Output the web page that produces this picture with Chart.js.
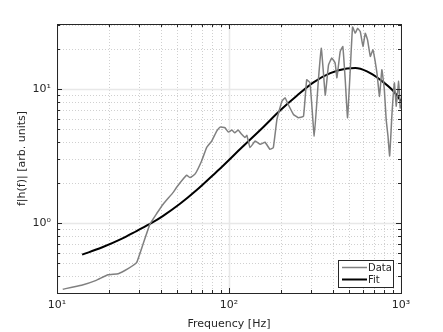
<!DOCTYPE html>
<html>
<head>
<meta charset="utf-8">
<script src="https://cdn.jsdelivr.net/npm/chart.js@4"></script>
<style>
  body { margin: 0; background: #fff; }
  #wrap { width: 443px; height: 332px; }
</style>
</head>
<body>
<div id="wrap"><canvas id="chart" width="443" height="332"></canvas></div>
<script>
// measured spectrum (gray)
const dataFreq = [10.8, 13.9, 16.9, 19.8, 22.7, 25.9, 29.0, 31.7, 34.7, 37.9, 41.4, 47.4, 49.5, 56.7, 59.3, 63.4,
  69.3, 74.1, 79.3, 84.8, 88.7, 94.8, 99.1, 104, 108, 113, 118.5, 124, 127, 132.5, 142, 152, 162, 173, 181,
  190, 203, 212, 221, 237, 253, 271, 283, 296, 313, 331, 344, 354, 363, 379, 396, 414, 424, 443, 459, 474,
  489, 507, 523, 542, 559, 580, 601, 620, 639, 663, 687, 708, 725, 750, 774, 800, 820, 840, 859, 887, 915,
  939, 969, 990, 1000];
const dataVal = [0.32, 0.343, 0.373, 0.411, 0.418, 0.456, 0.505, 0.70, 0.98, 1.17, 1.38, 1.69, 1.84, 2.27, 2.18, 2.31,
  2.9, 3.65, 4.08, 4.84, 5.19, 5.13, 4.76, 4.93, 4.7, 4.93, 4.58, 4.33, 4.5, 3.65, 4.08, 3.86, 4.0, 3.54, 3.65,
  5.92, 8.09, 8.58, 7.65, 6.45, 6.1, 6.24, 11.7, 11.1, 4.45, 11.7, 20.1, 13.2, 9.0, 15.1, 17, 15.6, 12.1, 19, 20.7, 11.7,
  6.1, 13.9, 29.0, 26, 28.3, 26.7, 20.7, 26, 23.2, 17.5, 19.6, 16, 13.1, 8.8, 13.9, 9.9, 5.9, 4.45, 3.16, 6.63, 11.1,
  7.43, 11.4, 7.2, 7.6];

// fitted curve (black)
const fitFreq = [14, 18.2, 23.7, 29, 35.5, 41.4, 51.9, 64.9, 80, 92.7, 118.6, 158.5, 198, 248, 310, 388,
  485, 542, 634, 757, 906, 1000];
const fitVal = [0.58, 0.655, 0.76, 0.87, 1.0, 1.13, 1.39, 1.76, 2.25, 2.68, 3.65, 5.2, 6.9, 8.9, 11.2, 13.1,
  14.2, 14.3, 13.5, 11.7, 9.6, 8.1];

const xMin = 10, xMax = 1000;
const yMin = 0.305, yMax = 30.5;
const seriesLabels = ['Data', 'Fit'];

const textColor = '#262626';
const fontFamily = '"DejaVu Sans", sans-serif';

function toPoints(xs, ys) {
  return xs.map((x, i) => ({ x: x, y: ys[i] }));
}

function logTicks(min, max) {
  const out = [];
  for (let e = Math.floor(Math.log10(min)); e <= Math.ceil(Math.log10(max)); e++) {
    for (let m = 1; m <= 9; m++) {
      const v = m * Math.pow(10, e);
      if (v >= min * 0.999 && v <= max * 1.001) out.push({ v: v, major: m === 1 });
    }
  }
  return out;
}

// grid lines behind the data
const gridPlugin = {
  id: 'matlabGrid',
  beforeDatasetsDraw(chart) {
    const { ctx, chartArea: a, scales } = chart;
    ctx.save();
    ctx.beginPath();
    ctx.rect(a.left, a.top, a.right - a.left, a.bottom - a.top);
    ctx.clip();
    const lines = [];
    logTicks(xMin, xMax).forEach(t => lines.push({ major: t.major, x: scales.x.getPixelForValue(t.v) }));
    logTicks(yMin, yMax).forEach(t => lines.push({ major: t.major, y: scales.y.getPixelForValue(t.v) }));
    lines.forEach(l => {
      ctx.beginPath();
      if (l.major) {
        ctx.setLineDash([]);
        ctx.strokeStyle = '#e8e8e8';
        ctx.lineWidth = 1.5;
      } else {
        ctx.setLineDash([1, 2]);
        ctx.strokeStyle = '#d0d0d0';
        ctx.lineWidth = 1;
      }
      if (l.x !== undefined) {
        const x = Math.round(l.x) + 0.5;
        ctx.moveTo(x, a.top);
        ctx.lineTo(x, a.bottom);
      } else {
        const y = Math.round(l.y) + 0.5;
        ctx.moveTo(a.left, y);
        ctx.lineTo(a.right, y);
      }
      ctx.stroke();
    });
    ctx.restore();
  },
  afterDatasetsDraw(chart) {
    const { ctx, chartArea: a, scales } = chart;
    ctx.save();
    ctx.setLineDash([]);
    ctx.strokeStyle = '#262626';
    ctx.lineWidth = 1;
    // inward ticks on all four sides
    ctx.beginPath();
    logTicks(xMin, xMax).forEach(t => {
      const x = Math.round(scales.x.getPixelForValue(t.v)) + 0.5;
      const len = t.major ? 5 : 3;
      ctx.moveTo(x, a.bottom); ctx.lineTo(x, a.bottom - len);
      ctx.moveTo(x, a.top); ctx.lineTo(x, a.top + len);
    });
    logTicks(yMin, yMax).forEach(t => {
      const y = Math.round(scales.y.getPixelForValue(t.v)) + 0.5;
      const len = t.major ? 5 : 3;
      ctx.moveTo(a.left, y); ctx.lineTo(a.left + len, y);
      ctx.moveTo(a.right, y); ctx.lineTo(a.right - len, y);
    });
    ctx.stroke();
    // axes box
    ctx.strokeRect(Math.round(a.left) + 0.5, Math.round(a.top) + 0.5,
      Math.round(a.right - a.left), Math.round(a.bottom - a.top));
    ctx.restore();
  }
};

// legend box in the lower right corner of the axes
const legendPlugin = {
  id: 'boxLegend',
  afterDraw(chart) {
    const { ctx, chartArea: a } = chart;
    const w = 55, h = 27;
    const x0 = a.right - 8 - w, y0 = a.bottom - 6 - h;
    ctx.save();
    ctx.fillStyle = '#fff';
    ctx.fillRect(x0, y0, w, h);
    ctx.strokeStyle = '#262626';
    ctx.lineWidth = 1;
    ctx.strokeRect(Math.round(x0) + 0.5, Math.round(y0) + 0.5, w, h);
    ctx.font = '10px ' + fontFamily;
    ctx.textBaseline = 'middle';
    ctx.fillStyle = textColor;
    chart.data.datasets.forEach((ds, i) => {
      const y = y0 + 7.5 + i * 12;
      ctx.beginPath();
      ctx.strokeStyle = ds.borderColor;
      ctx.lineWidth = ds.borderWidth;
      ctx.moveTo(x0 + 4, y);
      ctx.lineTo(x0 + 29, y);
      ctx.stroke();
      ctx.fillText(ds.label, x0 + 30, y + 0.5);
    });
    ctx.restore();
  }
};

const supers = { '-': '⁻', '0': '⁰', '1': '¹', '2': '²', '3': '³', '4': '⁴', '5': '⁵', '6': '⁶', '7': '⁷', '8': '⁸', '9': '⁹' };
function powerLabel(value) {
  const e = Math.log10(value);
  if (Math.abs(e - Math.round(e)) > 1e-6) return '';
  return '10' + String(Math.round(e)).split('').map(c => supers[c]).join('');
}

new Chart(document.getElementById('chart'), {
  type: 'scatter',
  data: {
    datasets: [
      {
        label: seriesLabels[0],
        data: toPoints(dataFreq, dataVal),
        showLine: true,
        borderColor: '#808080',
        borderWidth: 1.5,
        pointRadius: 0,
        tension: 0.1
      },
      {
        label: seriesLabels[1],
        data: toPoints(fitFreq, fitVal),
        showLine: true,
        borderColor: '#000000',
        borderWidth: 2,
        pointRadius: 0,
        cubicInterpolationMode: 'monotone'
      }
    ]
  },
  options: {
    responsive: false,
    animation: false,
    layout: { padding: { left: 0, right: 42, top: 24, bottom: 0 } },
    plugins: {
      legend: { display: false },
      tooltip: { enabled: false }
    },
    scales: {
      x: {
        type: 'logarithmic',
        min: xMin,
        max: xMax,
        grid: { display: false, drawTicks: false },
        border: { display: false },
        ticks: {
          autoSkip: false,
          maxRotation: 0,
          padding: 6,
          color: textColor,
          font: { family: fontFamily, size: 11 },
          callback: v => powerLabel(v)
        },
        title: {
          display: true,
          text: 'Frequency [Hz]',
          color: textColor,
          font: { family: fontFamily, size: 11 },
          padding: { top: 0, bottom: 1 }
        },
        afterFit: s => { s.height = 39; }
      },
      y: {
        type: 'logarithmic',
        min: yMin,
        max: yMax,
        grid: { display: false, drawTicks: false },
        border: { display: false },
        ticks: {
          autoSkip: false,
          padding: 6,
          color: textColor,
          font: { family: fontFamily, size: 11 },
          callback: v => powerLabel(v)
        },
        title: {
          display: true,
          text: 'f|h(f)| [arb. units]',
          color: textColor,
          font: { family: fontFamily, size: 11 },
          padding: { top: 16, bottom: 0 }
        },
        afterFit: s => { s.width = 57; }
      }
    }
  },
  plugins: [gridPlugin, legendPlugin]
});
</script>
</body>
</html>
